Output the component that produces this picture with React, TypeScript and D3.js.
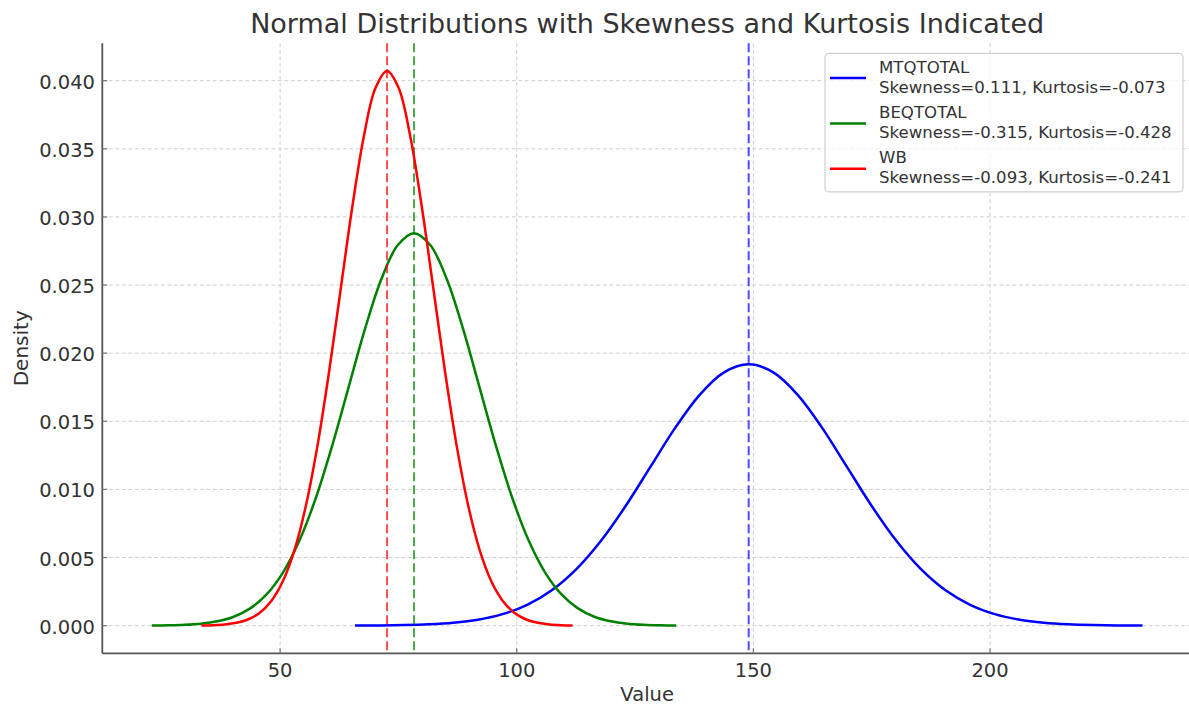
import React from "react";
import * as d3 from "d3";

// ---- Data ----
const seriesNames = ["MTQTOTAL", "BEQTOTAL", "WB"];
const seriesStats = [
  "Skewness=0.111, Kurtosis=-0.073",
  "Skewness=-0.315, Kurtosis=-0.428",
  "Skewness=-0.093, Kurtosis=-0.241",
];
const seriesColors = ["#0000ff", "#008000", "#ff0000"];
const seriesMeans = [149.0, 78.3, 72.6];

// MTQTOTAL curve (value, density)
const mtqX = [65.8, 71.0, 76.2, 81.4, 86.6, 91.8, 97.0, 102.2, 107.4, 112.6, 117.8, 123.0, 128.2, 133.4, 138.6, 143.8, 149.0, 154.2, 159.4, 164.6, 169.8, 175.0, 180.2, 185.4, 190.6, 195.8, 201.0, 206.2, 211.4, 216.6, 221.8, 227.0, 232.2];
const mtqY = [0.0000063, 0.0000168, 0.0000418, 0.0000976, 0.000213, 0.000437, 0.000843, 0.001526, 0.002596, 0.004148, 0.006227, 0.008781, 0.011633, 0.014478, 0.016926, 0.01859, 0.01918, 0.01859, 0.016926, 0.014478, 0.011633, 0.008781, 0.006227, 0.004148, 0.002596, 0.001526, 0.000843, 0.000437, 0.000213, 0.0000976, 0.0000418, 0.0000168, 0.0000063];

// BEQTOTAL curve
const beqX = [22.9, 26.36, 29.83, 33.29, 36.75, 40.21, 43.68, 47.14, 50.6, 54.06, 57.53, 60.99, 64.45, 67.91, 71.38, 74.84, 78.3, 81.76, 85.23, 88.69, 92.15, 95.61, 99.08, 102.54, 106.0, 109.46, 112.93, 116.39, 119.85, 123.31, 126.78, 130.24, 133.7];
const beqY = [0.0000094, 0.0000253, 0.0000628, 0.000147, 0.00032, 0.000656, 0.001266, 0.002292, 0.003898, 0.00623, 0.009352, 0.013188, 0.017471, 0.021743, 0.02542, 0.027918, 0.028804, 0.027918, 0.02542, 0.021743, 0.017471, 0.013188, 0.009352, 0.00623, 0.003898, 0.002292, 0.001266, 0.000656, 0.00032, 0.000147, 0.0000628, 0.0000253, 0.0000094];

// WB curve
const wbX = [33.4, 35.85, 38.3, 40.75, 43.2, 45.65, 48.1, 50.55, 53.0, 55.45, 57.9, 60.35, 62.8, 65.25, 67.7, 70.15, 72.6, 75.05, 77.5, 79.95, 82.4, 84.85, 87.3, 89.75, 92.2, 94.65, 97.1, 99.55, 102.0, 104.45, 106.9, 109.35, 111.8];
const wbY = [0.0000133, 0.0000357, 0.0000888, 0.000207, 0.000452, 0.000928, 0.001789, 0.003238, 0.005509, 0.008804, 0.013216, 0.018638, 0.024691, 0.030729, 0.035925, 0.039456, 0.040709, 0.039456, 0.035925, 0.030729, 0.024691, 0.018638, 0.013216, 0.008804, 0.005509, 0.003238, 0.001789, 0.000928, 0.000452, 0.000207, 0.0000888, 0.0000357, 0.0000133];

const xTicks = [50, 100, 150, 200];
const yTicks = [0, 0.005, 0.01, 0.015, 0.02, 0.025, 0.03, 0.035, 0.04];

const allX = [mtqX, beqX, wbX];
const allY = [mtqY, beqY, wbY];

export default function App() {
  const W = 1189;
  const H = 706;
  const left = 102.3;
  const right = 1192;
  const top = 43.3;
  const bottom = 653.3;

  const xs = allX.flat();
  const ys = allY.flat();
  const [x0, x1] = d3.extent(xs) as [number, number];
  const [y0, y1] = d3.extent(ys) as [number, number];
  const xp = (x1 - x0) * 0.05;
  const yp = (y1 - y0) * 0.05;

  const x = d3.scaleLinear().domain([x0 - xp, x1 + xp]).range([left, right]);
  const y = d3.scaleLinear().domain([y0 - yp, y1 + yp]).range([bottom, top]);

  const line = d3
    .line<[number, number]>()
    .x((d) => x(d[0]))
    .y((d) => y(d[1]))
    .curve(d3.curveCatmullRom.alpha(0.5));

  const font = "'DejaVu Sans', sans-serif";
  const txt = "#333333";
  const tickFont = 19.5;

  const fmt = d3.format(".3f");

  return (
    <svg
      width={W}
      height={H}
      style={{ position: "absolute", left: 0, top: 0, background: "#ffffff" }}
      fontFamily={font}
    >
      <rect x={0} y={0} width={W} height={H} fill="#ffffff" />
      {/* grid */}
      <g stroke="#cfcfcf" strokeWidth={1} strokeDasharray="4,2.5">
        {xTicks.map((t) => (
          <line key={"gx" + t} x1={x(t)} x2={x(t)} y1={top} y2={bottom} />
        ))}
        {yTicks.map((t) => (
          <line key={"gy" + t} x1={left} x2={right} y1={y(t)} y2={y(t)} />
        ))}
      </g>

      {/* curves and mean lines */}
      {seriesNames.map((name, i) => {
        const pts: [number, number][] = allX[i].map((v, j) => [v, allY[i][j]]);
        return (
          <g key={name}>
            <path d={line(pts) || ""} fill="none" stroke={seriesColors[i]} strokeWidth={2.5} />
            <line
              x1={x(seriesMeans[i])}
              x2={x(seriesMeans[i])}
              y1={top}
              y2={bottom}
              stroke={seriesColors[i]}
              strokeOpacity={0.7}
              strokeWidth={2}
              strokeDasharray="9,4"
            />
          </g>
        );
      })}

      {/* spines */}
      <line x1={left} x2={left} y1={top} y2={bottom} stroke="#555" strokeWidth={1.8} />
      <line x1={left} x2={right} y1={bottom} y2={bottom} stroke="#555" strokeWidth={1.8} />

      {/* ticks */}
      <g stroke="#777" strokeWidth={1.2}>
        {xTicks.map((t) => (
          <line key={"tx" + t} x1={x(t)} x2={x(t)} y1={bottom} y2={bottom - 5} />
        ))}
        {yTicks.map((t) => (
          <line key={"ty" + t} x1={left} x2={left + 5} y1={y(t)} y2={y(t)} />
        ))}
      </g>

      {/* tick labels */}
      <g fill={txt} fontSize={tickFont}>
        {xTicks.map((t) => (
          <text key={"lx" + t} x={x(t)} y={676.5} textAnchor="middle">
            {t}
          </text>
        ))}
        {yTicks.map((t) => (
          <text key={"ly" + t} x={95} y={y(t) + 8} textAnchor="end">
            {fmt(t)}
          </text>
        ))}
      </g>

      {/* axis labels */}
      <text x={(left + right) / 2} y={700.5} textAnchor="middle" fill={txt} fontSize={19.5}>
        Value
      </text>
      <text
        transform={`translate(28.3, ${(top + bottom) / 2}) rotate(-90)`}
        textAnchor="middle"
        fill={txt}
        fontSize={20}
      >
        Density
      </text>

      {/* title */}
      <text x={(left + right) / 2} y={33} textAnchor="middle" fill={txt} fontSize={27}>
        Normal Distributions with Skewness and Kurtosis Indicated
      </text>

      {/* legend */}
      <rect x={825} y={53.3} width={358} height={138.5} rx={4} fill="#ffffff" fillOpacity={0.8} stroke="#d0d0d0" strokeWidth={1.2} />
      {seriesNames.map((name, i) => {
        const b = 72.7 + i * 45.3;
        return (
          <g key={"leg" + name}>
            <line x1={830} x2={866} y1={b + 5.4} y2={b + 5.4} stroke={seriesColors[i]} strokeWidth={2.5} />
            <text x={879} y={b} fill={txt} fontSize={16.6}>
              {name}
            </text>
            <text x={879} y={b + 20} fill={txt} fontSize={16.6}>
              {seriesStats[i]}
            </text>
          </g>
        );
      })}
    </svg>
  );
}
